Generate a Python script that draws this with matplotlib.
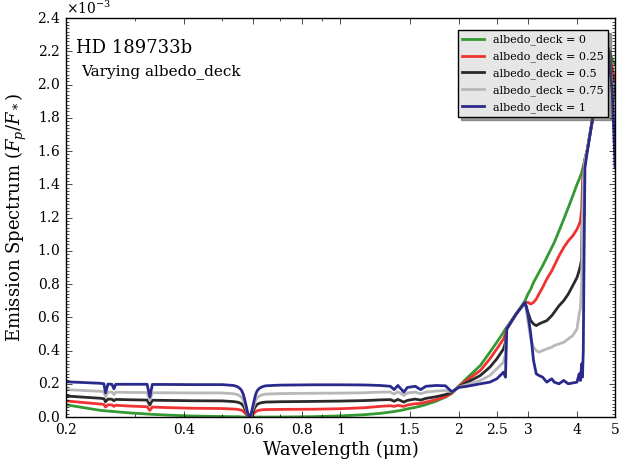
import matplotlib
matplotlib.use('Agg')
import matplotlib.pyplot as plt
from matplotlib.ticker import FixedLocator, NullFormatter, AutoMinorLocator, ScalarFormatter, LogLocator

plt.style.use('classic')
plt.rcParams['font.family'] = 'DejaVu Serif'
plt.rcParams['mathtext.fontset'] = 'dejavuserif'
plt.rcParams['figure.facecolor'] = 'white'
plt.rcParams['savefig.facecolor'] = 'white'
plt.rcParams['axes.formatter.use_mathtext'] = True

# wavelength grid (micron)
wavelength = [0.20, 0.22, 0.245, 0.250, 0.2524, 0.256, 0.262, 0.2651, 0.268, 0.29,
              0.322, 0.3272, 0.332, 0.36, 0.42, 0.50, 0.534, 0.545, 0.553, 0.560,
              0.566, 0.571, 0.576, 0.580, 0.584, 0.587, 0.590, 0.594, 0.598, 0.603,
              0.608, 0.614, 0.622, 0.632, 0.645, 0.70, 0.85, 1.0, 1.15, 1.26,
              1.34, 1.37, 1.40, 1.45, 1.48, 1.55, 1.60, 1.65, 1.75, 1.85,
              1.92, 2.0, 2.1, 2.27, 2.4, 2.5, 2.6, 2.63, 2.65, 2.8,
              2.95, 3.0, 3.05, 3.1, 3.15, 3.2, 3.27, 3.35, 3.45, 3.5,
              3.6, 3.7, 3.8, 3.9, 4.0, 4.05, 4.08, 4.11, 4.13, 4.15,
              4.17, 4.19, 4.25, 4.4, 4.6, 4.8, 4.92, 5.0]

# emission spectra, units of 1e-3
deck_0 = [0.074, 0.058, 0.040, 0.038, 0.037, 0.036, 0.034, 0.033, 0.032, 0.025,
          0.018, 0.017, 0.016, 0.012, 0.006, 0.003, 0.002, 0.002, 0.0015, 0.001,
          0.0, 0.0, 0.0, 0.0, 0.0, 0.0, 0.0, 0.0, 0.0, 0.0,
          0.0, 0.0, 0.0, 0.0, 0.0, 0.0, 0.002, 0.007, 0.014, 0.022,
          0.030, 0.033, 0.037, 0.044, 0.049, 0.058, 0.066, 0.075, 0.095, 0.120,
          0.142, 0.185, 0.235, 0.31, 0.39, 0.45, 0.51, 0.53, 0.54, 0.62,
          0.70, 0.74, 0.77, 0.81, 0.84, 0.87, 0.91, 0.96, 1.02, 1.05,
          1.12, 1.19, 1.26, 1.33, 1.40, 1.43, 1.45, 1.47, 1.49, 1.51,
          1.53, 1.55, 1.61, 1.82, 2.05, 2.22, 2.15, 2.12]
deck_025 = [0.097, 0.088, 0.078, 0.076, 0.060, 0.074, 0.073, 0.064, 0.071, 0.066,
            0.062, 0.040, 0.060, 0.057, 0.053, 0.051, 0.048, 0.047, 0.044, 0.041,
            0.034, 0.025, 0.016, 0.007, 0.002, 0.0, 0.002, 0.007, 0.015, 0.024,
            0.032, 0.038, 0.041, 0.044, 0.045, 0.046, 0.047, 0.050, 0.056, 0.064,
            0.068, 0.064, 0.070, 0.064, 0.072, 0.080, 0.082, 0.090, 0.104, 0.122,
            0.145, 0.185, 0.222, 0.28, 0.35, 0.41, 0.47, 0.50, 0.53, 0.62,
            0.69, 0.69, 0.68, 0.69, 0.71, 0.74, 0.78, 0.83, 0.88, 0.91,
            0.97, 1.02, 1.06, 1.09, 1.13, 1.16, 1.18, 1.25, 1.40, 1.48,
            1.52, 1.55, 1.61, 1.82, 2.05, 2.22, 2.10, 2.02]
deck_05 = [0.127, 0.120, 0.113, 0.110, 0.092, 0.108, 0.107, 0.098, 0.106, 0.104,
           0.102, 0.072, 0.101, 0.100, 0.098, 0.097, 0.093, 0.090, 0.086, 0.079,
           0.067, 0.049, 0.030, 0.014, 0.004, 0.0, 0.004, 0.014, 0.029, 0.048,
           0.064, 0.076, 0.083, 0.087, 0.090, 0.092, 0.094, 0.096, 0.099, 0.103,
           0.105, 0.095, 0.106, 0.090, 0.100, 0.108, 0.102, 0.112, 0.122, 0.135,
           0.148, 0.182, 0.208, 0.25, 0.30, 0.35, 0.41, 0.45, 0.53, 0.62,
           0.69, 0.63, 0.58, 0.56, 0.55, 0.56, 0.57, 0.58, 0.61, 0.63,
           0.67, 0.70, 0.74, 0.79, 0.84, 0.88, 0.91, 0.95, 1.30, 1.45,
           1.51, 1.55, 1.61, 1.82, 2.05, 2.22, 2.05, 1.90]
deck_075 = [0.165, 0.160, 0.155, 0.152, 0.122, 0.150, 0.150, 0.135, 0.149, 0.148,
            0.147, 0.100, 0.146, 0.146, 0.145, 0.145, 0.140, 0.136, 0.129, 0.119,
            0.100, 0.074, 0.046, 0.021, 0.006, 0.0, 0.006, 0.021, 0.045, 0.073,
            0.099, 0.117, 0.127, 0.134, 0.138, 0.141, 0.143, 0.144, 0.146, 0.150,
            0.150, 0.138, 0.152, 0.130, 0.145, 0.150, 0.140, 0.150, 0.156, 0.160,
            0.150, 0.180, 0.195, 0.22, 0.25, 0.29, 0.33, 0.38, 0.53, 0.62,
            0.69, 0.58, 0.47, 0.42, 0.40, 0.39, 0.40, 0.41, 0.42, 0.43,
            0.44, 0.45, 0.47, 0.49, 0.53, 0.62, 0.65, 0.80, 1.20, 1.42,
            1.50, 1.55, 1.61, 1.82, 2.05, 2.22, 2.00, 1.75]
deck_1 = [0.212, 0.208, 0.203, 0.200, 0.145, 0.198, 0.197, 0.170, 0.197, 0.197,
          0.197, 0.120, 0.196, 0.196, 0.195, 0.195, 0.190, 0.184, 0.175, 0.161,
          0.136, 0.101, 0.062, 0.029, 0.008, 0.0, 0.008, 0.029, 0.061, 0.100,
          0.134, 0.159, 0.173, 0.182, 0.188, 0.192, 0.194, 0.194, 0.193, 0.190,
          0.185, 0.165, 0.190, 0.150, 0.178, 0.185, 0.165, 0.185, 0.190, 0.188,
          0.152, 0.178, 0.185, 0.20, 0.21, 0.23, 0.27, 0.24, 0.53, 0.62,
          0.69, 0.62, 0.50, 0.34, 0.26, 0.25, 0.24, 0.21, 0.23, 0.21,
          0.20, 0.22, 0.20, 0.205, 0.21, 0.26, 0.22, 0.32, 0.24, 0.40,
          1.00, 1.50, 1.60, 1.82, 2.05, 2.22, 1.95, 1.50]

series = [deck_0, deck_025, deck_05, deck_075, deck_1]
labels = ['albedo_deck = 0', 'albedo_deck = 0.25', 'albedo_deck = 0.5',
          'albedo_deck = 0.75', 'albedo_deck = 1']
colors = ['#339933', '#f03232', '#2a2a2a', '#b8b8b8', '#2a2a8c']

xticks = [0.2, 0.4, 0.6, 0.8, 1, 1.5, 2, 2.5, 3, 4, 5]
xticklabels = ['0.2', '0.4', '0.6', '0.8', '1', '1.5', '2', '2.5', '3', '4', '5']

fig = plt.figure(figsize=(6.27, 4.67), dpi=100)
ax = fig.add_axes([0.105, 0.107, 0.876, 0.854])

for vals, lab, col in zip(series, labels, colors):
    ax.plot(wavelength, [v * 1e-3 for v in vals], color=col, lw=2, label=lab)

ax.set_xscale('log')
ax.set_xlim(0.2, 5)
ax.set_ylim(0, 2.4e-3)
ax.xaxis.set_major_locator(FixedLocator(xticks))
ax.set_xticklabels(xticklabels)
ax.xaxis.set_minor_locator(LogLocator(base=10, subs=range(1, 10), numticks=20))
ax.xaxis.set_minor_formatter(NullFormatter())
ax.yaxis.set_major_locator(FixedLocator([i * 0.2e-3 for i in range(13)]))
fmt = ScalarFormatter(useMathText=True)
fmt.set_powerlimits((-2, 2))
ax.yaxis.set_major_formatter(fmt)
ax.yaxis.set_minor_locator(AutoMinorLocator(10))
ax.tick_params(labelsize=10)
ax.yaxis.get_offset_text().set_fontsize(10)

ax.set_xlabel('Wavelength (μm)', fontsize=13, labelpad=3)
ax.set_ylabel(r'Emission Spectrum $(F_p/F_*)$', fontsize=13, labelpad=6)

ax.text(0.018, 0.925, 'HD 189733b', transform=ax.transAxes, fontsize=13, va='center')
ax.text(0.028, 0.865, 'Varying albedo_deck', transform=ax.transAxes, fontsize=11, va='center')

leg = ax.legend(loc='upper right', fontsize=8, shadow=True, fancybox=False,
                numpoints=1, handlelength=2.0, labelspacing=0.55,
                bbox_to_anchor=(0.988, 0.97), borderaxespad=0.0)
leg.get_frame().set_facecolor('#e6e6e6')
leg.get_frame().set_edgecolor('black')

fig.savefig('out.png', dpi=100)
